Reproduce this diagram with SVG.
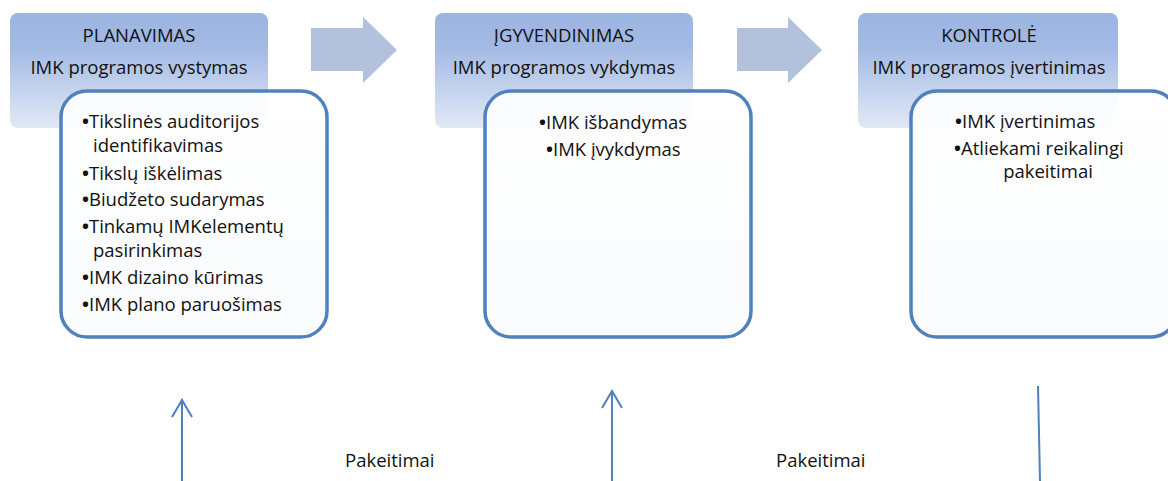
<svg xmlns="http://www.w3.org/2000/svg" width="1168" height="481" viewBox="0 0 1168 481">
<defs>
<linearGradient id="hdr" x1="0" y1="0" x2="0" y2="1">
<stop offset="0" stop-color="#9cb4e1"/>
<stop offset="0.3" stop-color="#a3bae4"/>
<stop offset="1" stop-color="#e2e9f5"/>
</linearGradient>
<linearGradient id="inner" x1="0" y1="0" x2="0" y2="1">
<stop offset="0" stop-color="#ffffff" stop-opacity="0.92"/>
<stop offset="1" stop-color="#fafbfd" stop-opacity="0.95"/>
</linearGradient>
</defs>
<style>
.hdr{fill:url(#hdr);}
.inner{fill:url(#inner);stroke:#4f81bd;stroke-width:3.5;}
.blk{fill:#b2c1dc;}
text{font-family:"Open Sans","Liberation Sans",sans-serif;fill:#111;font-size:18.5px;}
.c{text-anchor:middle;}
.b{font-weight:bold;}
.conn{stroke:#4f81bd;stroke-width:2;fill:none;}
</style>
<rect width="1168" height="481" fill="#ffffff"/>

<g id="planavimas">
<rect class="hdr" x="10" y="13" width="258" height="115" rx="8"/>
<text class="c" x="139" y="42">PLANAVIMAS</text>
<text class="c" x="139" y="74">IMK programos vystymas</text>
</g>
<g id="planavimas-list">
<rect class="inner" x="61" y="91" width="266" height="246" rx="26"/>
<text x="82" y="128"><tspan class="b">•</tspan>Tikslinės auditorijos</text>
<text x="93" y="152">identifikavimas</text>
<text x="82" y="180"><tspan class="b">•</tspan>Tikslų iškėlimas</text>
<text x="82" y="206"><tspan class="b">•</tspan>Biudžeto sudarymas</text>
<text x="82" y="233"><tspan class="b">•</tspan>Tinkamų IMKelementų</text>
<text x="93" y="257">pasirinkimas</text>
<text x="82" y="284"><tspan class="b">•</tspan>IMK dizaino kūrimas</text>
<text x="82" y="311"><tspan class="b">•</tspan>IMK plano paruošimas</text>
</g>

<g id="igyvendinimas">
<rect class="hdr" x="435" y="13" width="258" height="115" rx="8"/>
<text class="c" x="564" y="42">ĮGYVENDINIMAS</text>
<text class="c" x="564" y="74">IMK programos vykdymas</text>
</g>
<g id="igyvendinimas-list">
<rect class="inner" x="485" y="91" width="266" height="246" rx="26"/>
<text x="539" y="129"><tspan class="b">•</tspan>IMK išbandymas</text>
<text x="546" y="156"><tspan class="b">•</tspan>IMK įvykdymas</text>
</g>

<g id="kontrole">
<rect class="hdr" x="858" y="13" width="260" height="115" rx="8"/>
<text class="c" x="989" y="42">KONTROLĖ</text>
<text class="c" x="989" y="74">IMK programos įvertinimas</text>
</g>
<g id="kontrole-list">
<rect class="inner" x="911" y="91" width="266" height="246" rx="26"/>
<text x="955" y="128"><tspan class="b">•</tspan>IMK įvertinimas</text>
<text x="954" y="155"><tspan class="b">•</tspan>Atliekami reikalingi</text>
<text class="c" x="1048" y="178">pakeitimai</text>
</g>

<g id="connectors">
<path class="blk" d="M311,28 H363 V17 L397,50 L363,83 V71 H311 Z"/>
<path class="blk" d="M737,28 H788 V17 L822,50 L788,83 V71 H737 Z"/>
<line class="conn" x1="182" y1="481" x2="182" y2="399"/>
<path class="conn" d="M172,417 L182,400 L192,417"/>
<line class="conn" x1="612" y1="481" x2="612" y2="391"/>
<path class="conn" d="M602,408 L612,391 L622,408"/>
<line class="conn" x1="1038" y1="386" x2="1040" y2="481"/>
<text x="345" y="467">Pakeitimai</text>
<text x="776" y="467">Pakeitimai</text>
</g>
</svg>
